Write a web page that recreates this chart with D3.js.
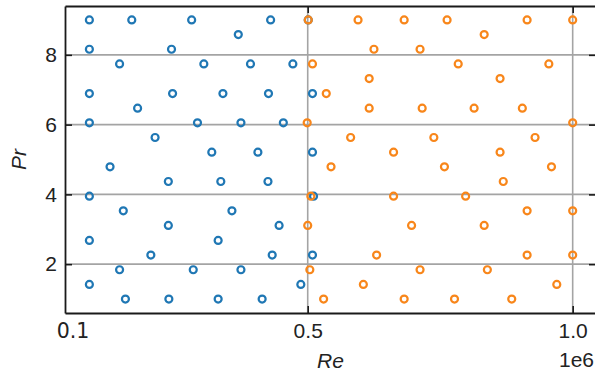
<!DOCTYPE html>
<html>
<head>
<meta charset="utf-8">
<script src="https://cdn.jsdelivr.net/npm/d3@7"></script>
<style>
  html, body { margin: 0; padding: 0; background: #fff; }
  svg { display: block; }
</style>
</head>
<body>
<svg id="chart" width="595" height="376"></svg>
<script>
// ---- data (Re in units of 1e6, Pr) ----
const prLevels = [9.00, 8.58, 8.16, 7.74, 7.32, 6.89, 6.47, 6.05, 5.63, 5.21,
                  4.79, 4.37, 3.95, 3.53, 3.11, 2.68, 2.26, 1.84, 1.42, 1.00];

// Re values per Pr row (index matches prLevels)
const blueRe = [
  [0.088, 0.168, 0.281, 0.430, 0.501],
  [0.369],
  [0.088, 0.243],
  [0.145, 0.304, 0.392, 0.472],
  [],
  [0.088, 0.245, 0.340, 0.426, 0.509],
  [0.179],
  [0.088, 0.292, 0.374, 0.454],
  [0.212],
  [0.319, 0.406, 0.509],
  [0.127],
  [0.237, 0.336, 0.425],
  [0.088, 0.511],
  [0.152, 0.357],
  [0.237, 0.446],
  [0.088, 0.331],
  [0.204, 0.433, 0.509],
  [0.145, 0.284, 0.374],
  [0.088, 0.487],
  [0.156, 0.238, 0.331, 0.414]
];
const orangeRe = [
  [0.501, 0.595, 0.682, 0.763, 0.914, 1.000],
  [0.833],
  [0.625, 0.712],
  [0.509, 0.784, 0.955],
  [0.616, 0.863],
  [0.535],
  [0.616, 0.716, 0.814, 0.905],
  [0.499, 1.000],
  [0.581, 0.738, 0.929],
  [0.662, 0.863],
  [0.544, 0.758, 0.960],
  [0.869],
  [0.506, 0.662, 0.798],
  [0.914, 1.000],
  [0.500, 0.696, 0.833],
  [],
  [0.630, 0.914, 1.000],
  [0.504, 0.712, 0.839],
  [0.605, 0.970],
  [0.530, 0.682, 0.777, 0.885]
];

const xTicks = [0.5, 1.0];
const xTickLabels = ["0.5", "1.0"];
const yTicks = [2, 4, 6, 8];
const yTickLabels = ["2", "4", "6", "8"];
const xStartLabel = "0.1";
const xOffsetLabel = "1e6";
const xLabel = "Re";
const yLabel = "Pr";

// ---- layout ----
const svg = d3.select("#chart");
const L = 65, R = 596, T = 6, B = 313;
const x = d3.scaleLinear().domain([0.042, 1.044]).range([L, R]);
const y = d3.scaleLinear().domain([0.6, 9.4]).range([B, T]);

const font = "'Liberation Sans', Arial, sans-serif";
const gridColor = "#a4a4a4";
const blue = "#1f77b4", orange = "#f8861a";

function toPoints(rows) {
  const pts = [];
  rows.forEach((r, i) => r.forEach(re => pts.push({re, pr: prLevels[i]})));
  return pts;
}
const bluePts = toPoints(blueRe);
const orangePts = toPoints(orangeRe);

// grid
svg.append("g").selectAll("line.h").data(yTicks).join("line")
  .attr("x1", L).attr("x2", R)
  .attr("y1", d => y(d)).attr("y2", d => y(d))
  .attr("stroke", gridColor).attr("stroke-width", 1.6);
svg.append("g").selectAll("line.v").data(xTicks).join("line")
  .attr("x1", d => x(d)).attr("x2", d => x(d))
  .attr("y1", T).attr("y2", B)
  .attr("stroke", gridColor).attr("stroke-width", 1.6);

// points
svg.append("g").selectAll("circle").data(bluePts).join("circle")
  .attr("cx", d => x(d.re)).attr("cy", d => y(d.pr)).attr("r", 3.5)
  .attr("fill", "none").attr("stroke", blue).attr("stroke-width", 2.2);
svg.append("g").selectAll("circle").data(orangePts).join("circle")
  .attr("cx", d => x(d.re)).attr("cy", d => y(d.pr)).attr("r", 3.5)
  .attr("fill", "none").attr("stroke", orange).attr("stroke-width", 2.2);

// axes (ticks inward, on all sides)
const tickLen = 7;
const xAxisB = d3.axisBottom(x).tickValues(xTicks).tickSizeInner(-tickLen).tickSizeOuter(0)
  .tickFormat((d, i) => xTickLabels[i]).tickPadding(10);
const gB = svg.append("g").attr("transform", `translate(0,${B})`).call(xAxisB);
const xAxisT = d3.axisTop(x).tickValues(xTicks).tickSizeInner(-tickLen).tickSizeOuter(0).tickFormat("");
const gT = svg.append("g").attr("transform", `translate(0,${T})`).call(xAxisT);
const yAxisL = d3.axisLeft(y).tickValues(yTicks).tickSizeInner(-tickLen).tickSizeOuter(0)
  .tickFormat((d, i) => yTickLabels[i]).tickPadding(8);
const gL = svg.append("g").attr("transform", `translate(${L},0)`).call(yAxisL);
const yAxisR = d3.axisRight(y).tickValues(yTicks).tickSizeInner(-tickLen).tickSizeOuter(0).tickFormat("");
const gR = svg.append("g").attr("transform", `translate(${R},0)`).call(yAxisR);

[gB, gT, gL, gR].forEach(g => {
  g.select(".domain").attr("stroke", "#1a1a1a").attr("stroke-width", 1.8);
  g.selectAll(".tick line").attr("stroke", "#1a1a1a").attr("stroke-width", 1.6);
  g.selectAll(".tick text").attr("font-family", font).attr("font-size", 21).attr("fill", "#222");
});

// start label
svg.append("text").attr("x", L + 8).attr("y", 338)
  .attr("text-anchor", "middle").attr("font-family", "'DejaVu Sans', sans-serif")
  .attr("font-size", 20.5).attr("fill", "#222").text(xStartLabel);

// offset label
svg.append("text").attr("x", 594).attr("y", 367)
  .attr("text-anchor", "end").attr("font-family", font)
  .attr("font-size", 21).attr("fill", "#222").text(xOffsetLabel);

// axis labels
svg.append("text").attr("x", (L + R) / 2).attr("y", 368)
  .attr("text-anchor", "middle").attr("font-family", font).attr("font-style", "italic")
  .attr("font-size", 21).attr("fill", "#222").text(xLabel);
svg.append("text").attr("transform", `translate(26,${(T + B) / 2}) rotate(-90)`)
  .attr("text-anchor", "middle").attr("font-family", font).attr("font-style", "italic")
  .attr("font-size", 21).attr("fill", "#222").text(yLabel);
</script>
</body>
</html>
